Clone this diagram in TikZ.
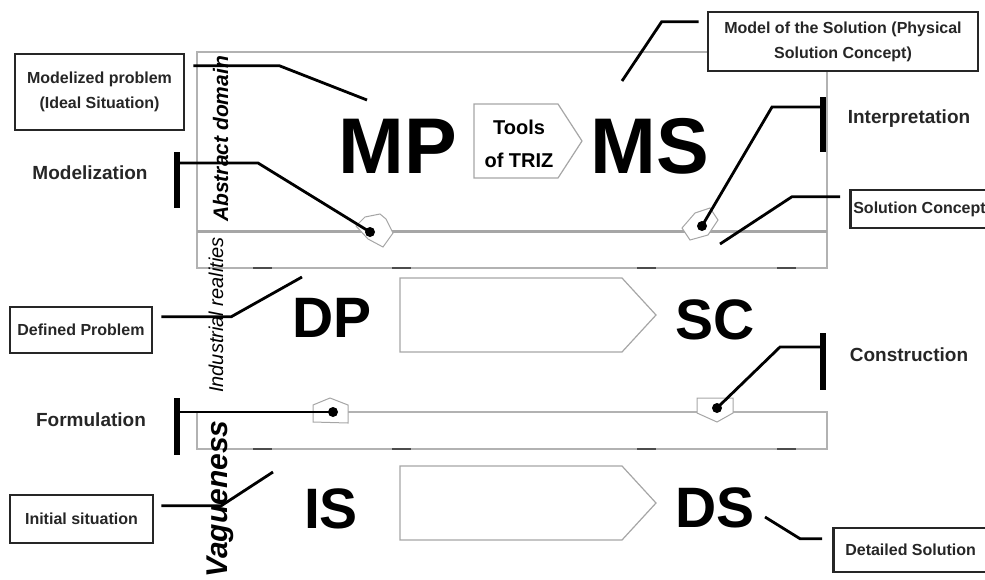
\documentclass[tikz,border=0pt]{standalone}
\usepackage{fontspec}
\setmainfont{Liberation Sans}
\usetikzlibrary{calc}

\begin{document}
\begin{tikzpicture}[x=1pt,y=-1pt]
	\tikzstyle{frame}=[draw=black!30,line width=1.4pt]
	\tikzstyle{sepline}=[draw=black!35,line width=3pt]
	\tikzstyle{tick}=[draw=black!70,line width=2.5pt]
	\tikzstyle{halo}=[draw=black!35,fill=white,line width=1pt]
	\tikzstyle{blockarrow}=[draw=black!35,fill=white,line width=1.2pt]
	\tikzstyle{link}=[draw=black,line width=2.8pt]
	\tikzstyle{bar}=[draw=black,line width=6pt]
	\tikzstyle{knot}=[fill=black]
	\tikzstyle{labelbox}=[draw=black!85,line width=2.6pt,fill=white,align=center,inner sep=4pt,text=black!85,font=\fontsize{16}{25}\selectfont\bfseries]
	\tikzstyle{phase}=[text=black!85,font=\fontsize{19}{22}\selectfont\bfseries]
	\tikzstyle{topstate}=[inner sep=0pt,anchor=base,font=\fontsize{79}{80}\selectfont\bfseries]
	\tikzstyle{bigstate}=[inner sep=0pt,anchor=base,font=\fontsize{57}{60}\selectfont\bfseries]
	\tikzstyle{axisname}=[rotate=90,anchor=base west,inner sep=0pt]
	\useasboundingbox (0,0) rectangle (985,579);
	\clip (0,0) rectangle (985,579);
	% domains
	\draw[frame] (197,52) rectangle (827,268);
	\draw[frame] (197,412) rectangle (827,449);
	\draw[sepline] (197,231) -- (827,231);
	\foreach \yb in {268,449}
		\foreach \xa in {253,392,637,777}
			\draw[tick] (\xa,\yb) -- (\xa+19,\yb);
	% transformation arrows
	\draw[blockarrow] (474,104) -- (558,104) -- (582,141) -- (558,178) -- (474,178) -- cycle;
	\foreach \yc in {315,503}
		\draw[blockarrow] (400,\yc-37) -- (622,\yc-37) -- (656,\yc) -- (622,\yc+37) -- (400,\yc+37) -- cycle;
	\node[font=\fontsize{20}{33}\selectfont\bfseries,align=center] (triz) at (519,144) {Tools\\of TRIZ};
	% states
	\node[topstate] (MP) at (398,173) {MP};
	\node[topstate] (MS) at (650,173) {MS};
	\node[bigstate] (DP) at (332,337) {DP};
	\node[bigstate] (SC) at (715,339) {SC};
	\node[bigstate] (IS) at (331,528) {IS};
	\node[bigstate] (DS) at (715,527) {DS};
	% axis names
	\node[axisname,font=\fontsize{21}{21}\selectfont\bfseries\itshape] (abstract) at (228,222) {Abstract domain};
	\node[axisname,font=\fontsize{20}{20}\selectfont\itshape] (industrial) at (223,393) {Industrial realities};
	\node[axisname,font=\fontsize{30}{30}\selectfont\bfseries\itshape] (vague) at (227,578) {Vagueness};
	% passage points
	\coordinate (pMP) at (370,232);
	\coordinate (pMS) at (702,226);
	\coordinate (pDP) at (333,412);
	\coordinate (pSC) at (717,408);
	\draw[halo,shift={(pMP)}] (-14,-6) -- (-5,-15) -- (10,-18) -- (16,-13) -- (23,1) -- (13,15) -- (-2,7) -- cycle;
	\draw[halo,shift={(pMS)}] (-20,2) -- (-7,-13) -- (8,-18) -- (16,-6) -- (6,9) -- (-12,14) -- cycle;
	\draw[halo,shift={(pDP)}] (-20,-7) -- (-3,-14) -- (15,-7) -- (15,11) -- (-20,10) -- cycle;
	\draw[halo,shift={(pSC)}] (-20,-10) -- (16,-10) -- (16,5) -- (0,14) -- (-20,5) -- cycle;
	% phases
	\node[phase] (modelization) at (90,173) {Modelization};
	\node[phase] (interpretation) at (909,119) {Interpretation};
	\node[phase] (construction) at (909,355) {Construction};
	\node[phase] (formulation) at (91,420) {Formulation};
	\coordinate (mzjoint) at (177,163);
	\coordinate (ipjoint) at (823,107);
	\coordinate (cojoint) at (823,347);
	\coordinate (fojoint) at (177,412);
	\draw[bar] ($(mzjoint)+(0,-11)$) -- ++(0,56);
	\draw[bar] ($(ipjoint)+(0,-10)$) -- ++(0,55);
	\draw[bar] ($(cojoint)+(0,-14)$) -- ++(0,57);
	\draw[bar] ($(fojoint)+(0,-14)$) -- ++(0,57);
	\draw[link] (mzjoint) -- ++(81,0) -- (pMP);
	\draw[link] (ipjoint) -- ++(-51,0) -- (pMS);
	\draw[link] (cojoint) -- ++(-43,0) -- (pSC);
	\draw[link] (fojoint) -- (pDP);
	\foreach \p in {pMP,pMS,pDP,pSC}
		\fill[knot] (\p) circle[radius=5];
	% explanations
	\node[labelbox,minimum width=169,minimum height=76] (mzbox) at (99.5,92) {Modelized problem\\(Ideal Situation)};
	\node[labelbox,minimum width=270,minimum height=59] (msbox) at (843,41.5) {Model of the Solution (Physical\\Solution Concept)};
	\node[labelbox,minimum width=142,minimum height=46] (dpbox) at (81,330) {Defined Problem};
	\node[labelbox,minimum width=143,minimum height=48] (isbox) at (81.5,519) {Initial situation};
	\node[labelbox,anchor=west,minimum height=38,inner xsep=3pt] (scbox) at (849,209) {Solution Concept};
	\node[labelbox,anchor=west,minimum height=44,inner xsep=12pt] (dsbox) at (832,550) {Detailed Solution};
	\coordinate (mzend) at (367,100);
	\coordinate (msend) at (622,81);
	\coordinate (scend) at (720,244);
	\coordinate (dpend) at (302,277);
	\coordinate (isend) at (273,472);
	\coordinate (dsend) at (765,517);
	\draw[link] ($(mzbox.north east)+(8,13)$) -- ++(86,0) -- (mzend);
	\draw[link] ($(msbox.north west)+(-8,11)$) -- ++(-37,0) -- (msend);
	\draw[link] ($(scbox.north west)+(-9,8)$) -- ++(-48,0) -- (scend);
	\draw[link] ($(dpbox.north east)+(8,11)$) -- ++(70,0) -- (dpend);
	\draw[link] ($(isbox.north east)+(7,12)$) -- ++(60,0) -- (isend);
	\draw[link] ($(dsbox.north west)+(-10,12)$) -- ++(-22,0) -- (dsend);
\end{tikzpicture}
\end{document}
